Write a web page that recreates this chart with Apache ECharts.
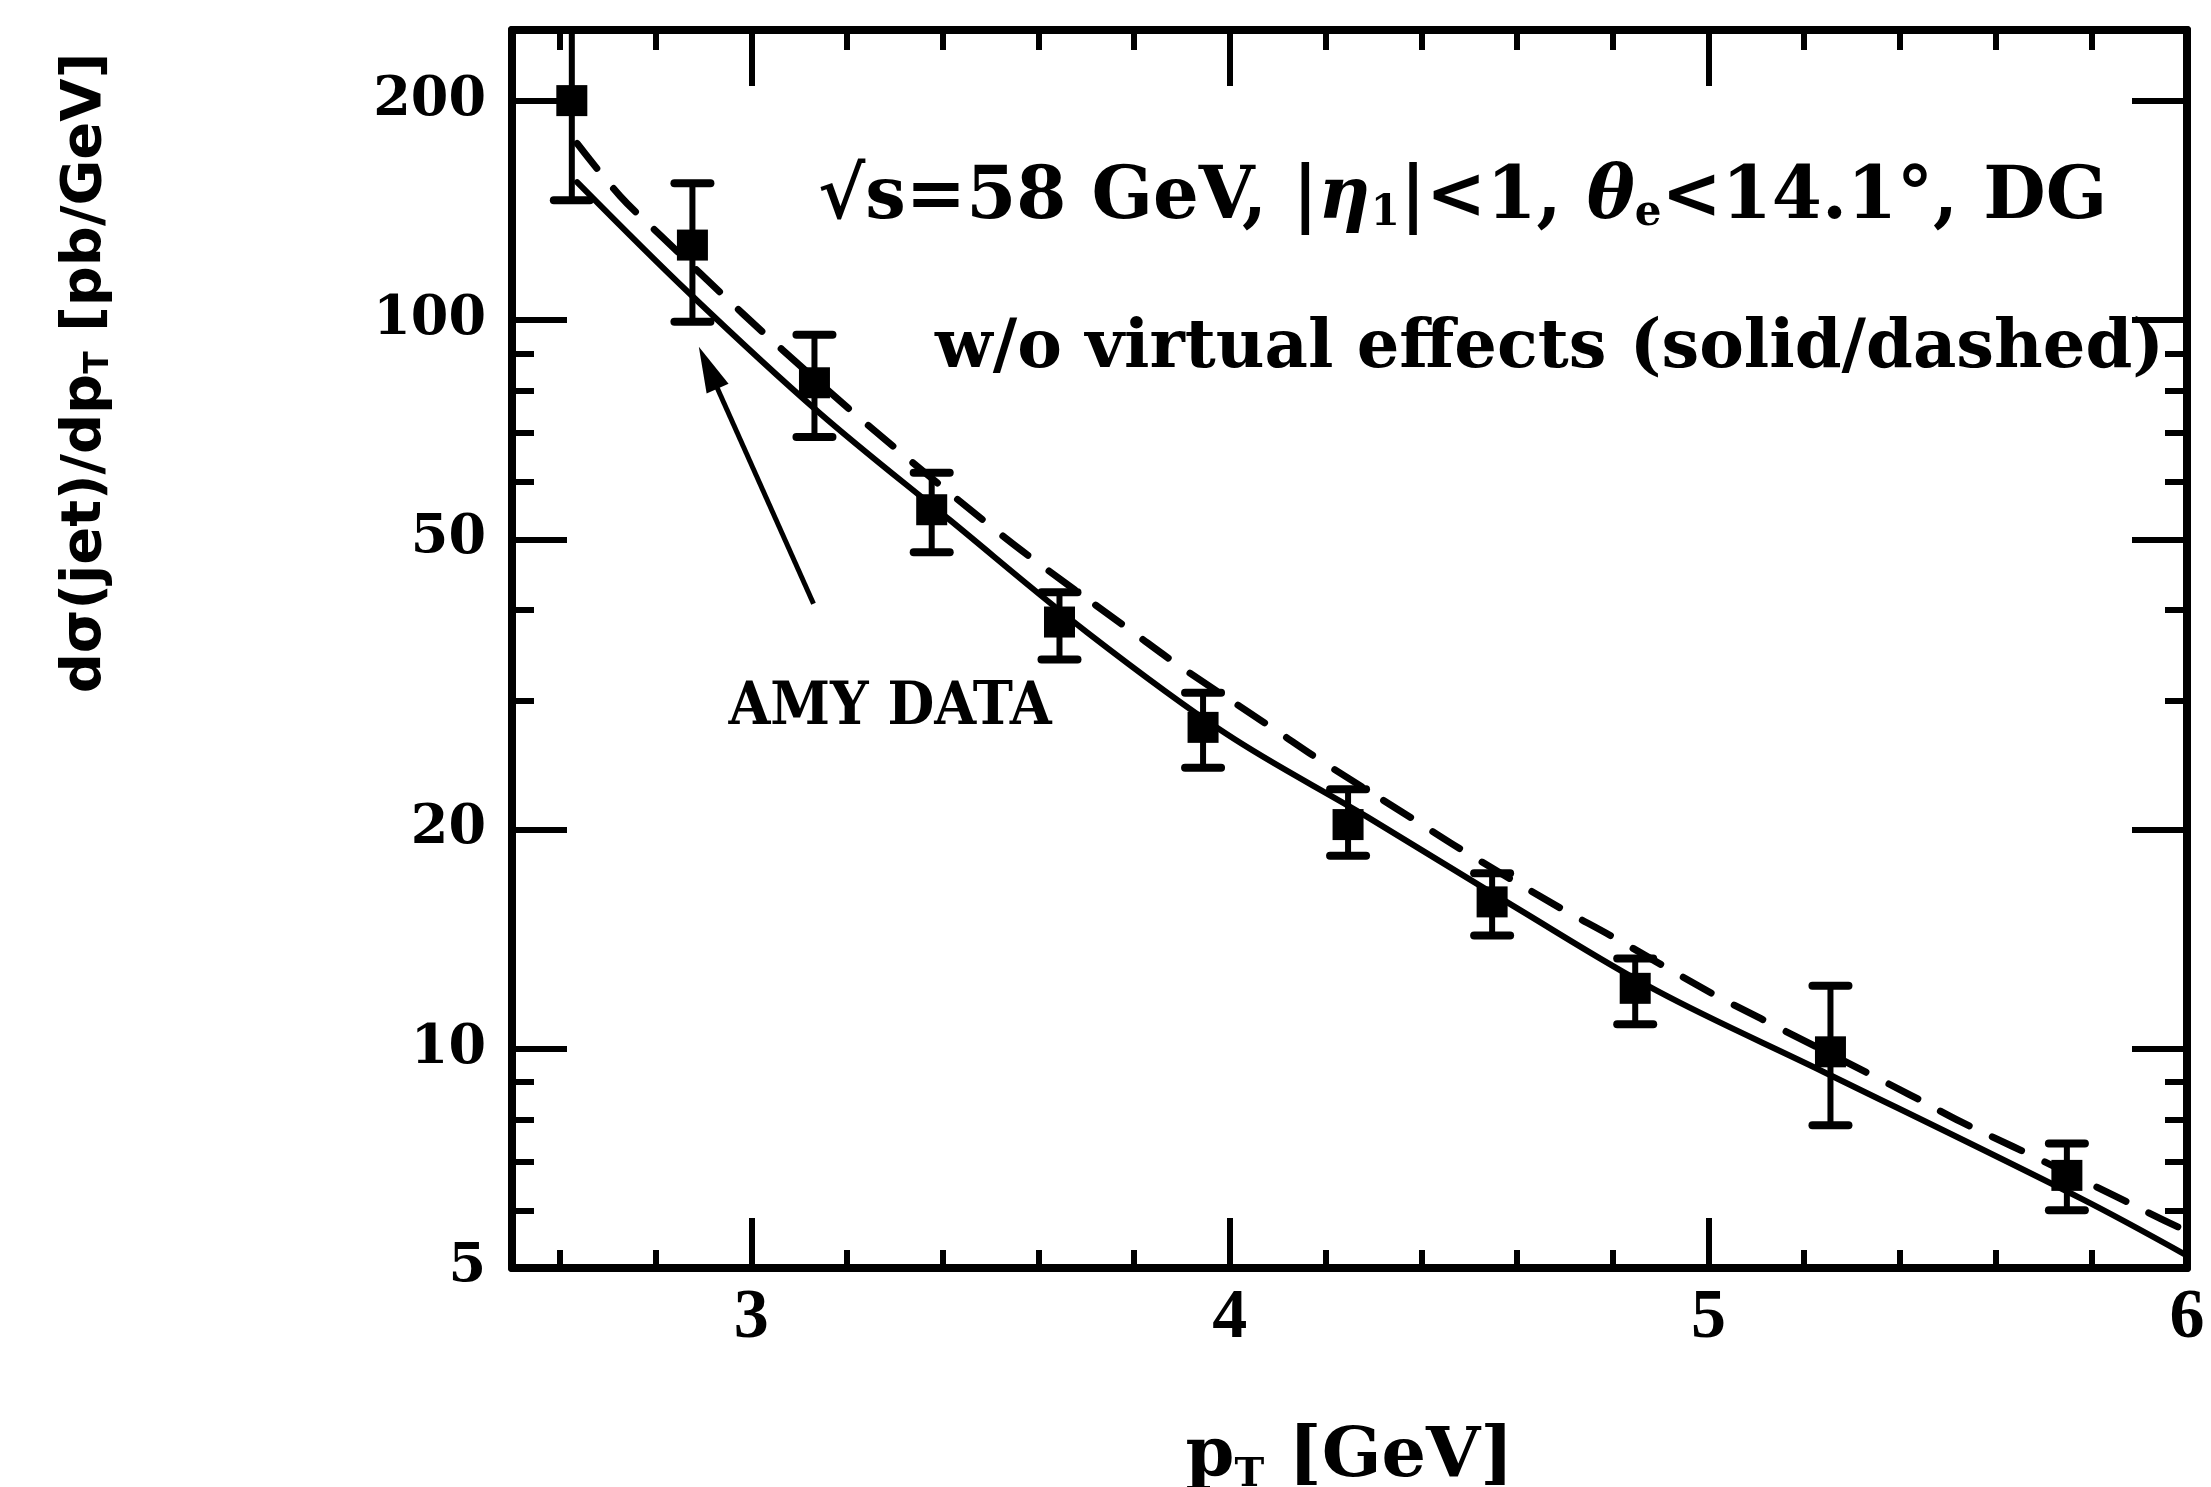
<!DOCTYPE html>
<html><head><meta charset="utf-8">
<script src="https://cdn.jsdelivr.net/npm/echarts@6/dist/echarts.min.js"></script>
<style>html,body{margin:0;padding:0;background:#fff}#c{width:2211px;height:1487px}</style>
</head><body><div id="c"></div>
<script>
// AMY data points (pT, value, lower, upper)
const ptX   = [2.625, 2.877, 3.132, 3.377, 3.644, 3.944, 4.247, 4.548, 4.847, 5.255, 5.749];
const ptY   = [200, 126.7, 82.0, 54.9, 38.5, 27.6, 20.3, 15.9, 12.1, 9.9, 6.7];
const errLo = [146, 99.4, 69.1, 48.0, 34.2, 24.3, 18.4, 14.3, 10.8, 7.85, 6.0];
const errHi = [260, 154, 95.4, 61.7, 42.3, 30.8, 22.7, 17.4, 13.3, 12.2, 7.41];
// solid curve
const solidX = [2.636, 2.870, 3.142, 3.414, 3.701, 3.994, 4.287, 4.592, 4.893, 5.241, 5.778, 6.0];
const solidY = [154.6, 108.9, 74.6, 53.2, 37.3, 27.0, 20.8, 15.7, 12.0, 9.29, 6.23, 5.2];
// dashed curve
const dashX = [2.636, 2.726, 2.810, 2.981, 3.065, 3.243, 3.513, 3.609, 3.797, 3.895, 4.094, 4.192, 4.391, 4.487, 4.690, 4.795, 5.008, 5.109, 5.423, 5.527, 5.636, 5.847, 5.952, 6.0];
const dashY = [174.7, 147.9, 130.7, 102.2, 91.0, 71.8, 51.3, 45.9, 37.3, 33.5, 27.4, 24.8, 20.5, 18.7, 15.6, 14.3, 11.9, 11.0, 8.63, 7.94, 7.34, 6.29, 5.81, 5.62];
// axis ticks / labels
const xLabels = [3, 4, 5, 6];
const xMajorTicks = [3, 4, 5];
const xMinorTicks = [2.6, 2.8, 3.2, 3.4, 3.6, 3.8, 4.2, 4.4, 4.6, 4.8, 5.2, 5.4, 5.6, 5.8];
const yLabels = [5, 10, 20, 50, 100, 200];
const yMinorTicks = [6, 7, 8, 9, 30, 40, 60, 70, 80, 90];
// arrow annotation (from label toward data) in data coordinates
const arrowFrom = [3.130, 40.8];
const arrowTo = [2.910, 86.0];

const SERIF = "'DejaVu Serif', serif";
const SANS = "'DejaVu Sans', sans-serif";

function zip(a, b) { return a.map((v, i) => [v, b[i]]); }

const X_MIN = 2.5, X_MAX = 6, Y_MIN = 5, Y_MAX = 250;

function xAxisDef(pos, ticks, len, showLine, labels) {
  return {
    type: 'value', position: pos, min: X_MIN, max: X_MAX, gridIndex: 0,
    axisLine: {show: showLine, lineStyle: {color: '#000', width: 8}},
    axisTick: {show: true, inside: true, length: len, customValues: ticks, lineStyle: {color: '#000', width: 6}},
    axisLabel: labels ? {show: true, customValues: labels, margin: 16, color: '#000',
      fontFamily: "'Liberation Serif', serif", fontWeight: 'bold', fontSize: 70} : {show: false},
    splitLine: {show: false}
  };
}
function yAxisDef(pos, ticks, len, showLine, labels) {
  return {
    type: 'log', logBase: 10, position: pos, min: Y_MIN, max: Y_MAX, gridIndex: 0,
    axisLine: {show: showLine, lineStyle: {color: '#000', width: 8}},
    axisTick: {show: true, inside: true, length: len, customValues: ticks, lineStyle: {color: '#000', width: 6}},
    axisLabel: labels ? {show: true, customValues: labels, margin: 26, color: '#000',
      fontFamily: SERIF, fontWeight: 'bold', fontSize: 54, formatter: v => String(Math.round(v))} : {show: false},
    splitLine: {show: false}, minorTick: {show: false}
  };
}

const chart = echarts.init(document.getElementById('c'));
chart.setOption({
  backgroundColor: '#fff',
  animation: false,
  grid: {left: 512, top: 30, width: 1675, height: 1238, outerBoundsMode: 'none', containLabel: false},
  xAxis: [
    Object.assign(xAxisDef('bottom', xMajorTicks, 50, true, xLabels), {
      name: '{p|p}{t|T}{p| [GeV]}', nameLocation: 'middle', nameGap: 152,
      nameTextStyle: {rich: {
        p: {fontFamily: SERIF, fontWeight: 'bold', fontSize: 70, color: '#000', lineHeight: 76},
        t: {fontFamily: SERIF, fontWeight: 'bold', fontSize: 40, color: '#000', lineHeight: 30, verticalAlign: 'bottom'}
      }}
    }),
    xAxisDef('bottom', xMinorTicks, 18, false, null),
    xAxisDef('top', xMajorTicks, 56, true, null),
    xAxisDef('top', xMinorTicks, 20, false, null)
  ],
  yAxis: [
    yAxisDef('left', yLabels, 55, true, yLabels),
    yAxisDef('left', yMinorTicks, 22, false, null),
    yAxisDef('right', yLabels, 55, true, null),
    yAxisDef('right', yMinorTicks, 22, false, null)
  ],
  graphic: [
    {type: 'text', x: 818, y: 199, silent: true, style: {
      text: '√s=58 GeV, |{i|η}{s|1}|<1, {i|θ}{s|e}<14.1°, DG',
      fontFamily: SERIF, fontWeight: 'bold', fontSize: 72, fill: '#000', align: 'left', verticalAlign: 'middle',
      rich: {
        i: {fontFamily: SERIF, fontWeight: 'bold', fontStyle: 'italic', fontSize: 72, fill: '#000'},
        s: {fontFamily: SERIF, fontWeight: 'bold', fontSize: 42, fill: '#000', lineHeight: 30, verticalAlign: 'bottom'}
      }
    }},
    {type: 'text', x: 935, y: 350, silent: true, style: {
      text: 'w/o virtual effects (solid/dashed)',
      fontFamily: SERIF, fontWeight: 'bold', fontSize: 67, fill: '#000', align: 'left', verticalAlign: 'middle'
    }},
    {type: 'text', x: 890, y: 708, silent: true, style: {
      text: 'AMY DATA',
      fontFamily: "'DejaVu Serif Condensed', 'DejaVu Serif', serif", fontWeight: 'bold', fontSize: 60, fill: '#000', align: 'center', verticalAlign: 'middle'
    }},
    {type: 'text', x: 85, y: 373, rotation: Math.PI / 2, silent: true, style: {
      text: '{m|dσ(jet)/dp}{t|T}{m| [pb/GeV]}',
      align: 'center', verticalAlign: 'middle',
      rich: {
        m: {fontFamily: SANS, fontWeight: 'bold', fontSize: 56, fill: '#000', lineHeight: 62},
        t: {fontFamily: SANS, fontWeight: 'bold', fontSize: 33, fill: '#000', lineHeight: 24, verticalAlign: 'bottom'}
      }
    }}
  ],
  series: [
    {
      name: 'solid', type: 'line', data: zip(solidX, solidY), showSymbol: false, symbol: 'none',
      smooth: 0.35, clip: true, z: 2,
      lineStyle: {color: '#000', width: 6, cap: 'round', join: 'round'}
    },
    {
      name: 'dashed', type: 'line', data: zip(dashX, dashY), showSymbol: false, symbol: 'none',
      smooth: 0.35, clip: true, z: 2,
      lineStyle: {color: '#000', width: 7, type: [32, 26], cap: 'round', join: 'round'}
    },
    {
      name: 'errors', type: 'custom', clip: true, z: 3,
      data: ptX.map((x, i) => [x, errLo[i], errHi[i]]),
      encode: {x: 0, y: [1, 2]},
      renderItem: function (params, api) {
        const x = api.value(0);
        const lo = api.coord([x, api.value(1)]);
        const hi = api.coord([x, api.value(2)]);
        const w = 36;
        const st = {stroke: '#000', lineWidth: 6, lineCap: 'round'};
        return {type: 'group', children: [
          {type: 'line', shape: {x1: lo[0], y1: lo[1], x2: hi[0], y2: hi[1]}, style: st},
          {type: 'line', shape: {x1: lo[0] - w / 2, y1: lo[1], x2: lo[0] + w / 2, y2: lo[1]}, style: {stroke: '#000', lineWidth: 8, lineCap: 'round'}},
          {type: 'line', shape: {x1: hi[0] - w / 2, y1: hi[1], x2: hi[0] + w / 2, y2: hi[1]}, style: {stroke: '#000', lineWidth: 8, lineCap: 'round'}}
        ]};
      }
    },
    {
      name: 'AMY DATA', type: 'scatter', data: zip(ptX, ptY), symbol: 'rect', symbolSize: 31, z: 4,
      itemStyle: {color: '#000', opacity: 1}, clip: true,
      markLine: {
        silent: true, symbol: ['none', 'triangle'], symbolSize: [24, 46],
        label: {show: false}, lineStyle: {color: '#000', width: 5, type: 'solid'},
        data: [[{coord: arrowFrom}, {coord: arrowTo}]]
      }
    }
  ]
});
</script></body></html>
